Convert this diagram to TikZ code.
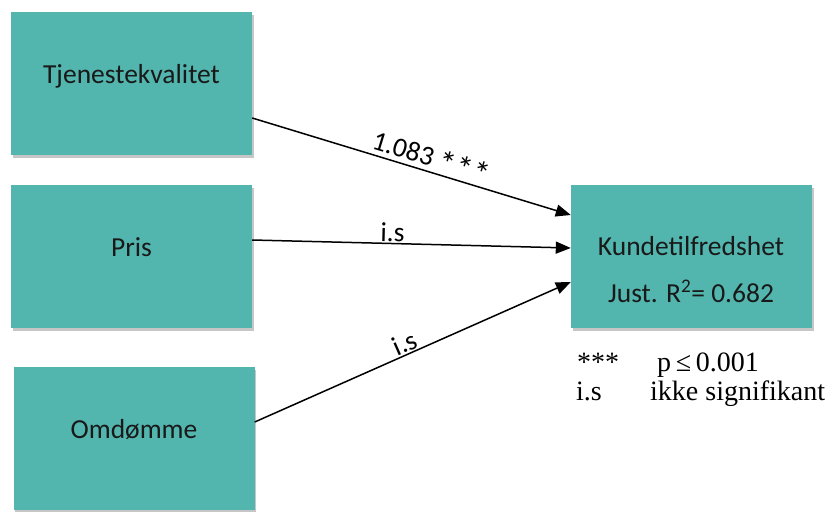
\documentclass[tikz,border=0pt]{standalone}
\usepackage{fontspec}
\setmainfont{Carlito}
\newfontfamily\legendfont{Liberation Serif}
\usetikzlibrary{arrows.meta,shadows,calc}
\definecolor{teal1}{RGB}{82,181,174}
\newcommand{\stars}{\raisebox{-4pt}{\fontsize{34}{30}\selectfont *\kern1pt*\kern1pt*}}
\begin{document}
\begin{tikzpicture}[x=1pt,y=-1pt,
  box/.style={draw=none,fill=teal1,minimum width=241pt,minimum height=143pt,inner sep=0pt,
    drop shadow={opacity=0.45,shadow xshift=1.5pt,shadow yshift=-3pt}},
  boxtext/.style={anchor=base,font=\fontsize{27.5}{30}\selectfont,text=black!90,inner sep=0pt},
  conn/.style={line width=1.5pt,-{Triangle[length=15pt,width=12pt]}},
  elabel/.style={font=\fontsize{27.5}{30}\selectfont,inner sep=1pt,sloped,above},
  legend/.style={anchor=base west,font=\legendfont\fontsize{28}{30}\selectfont,inner sep=0pt}]
\useasboundingbox (0,0) rectangle (837,511);
% boxes
\node[box] (t) at (131.5,83.5) {};
\node[box] (p) at (131.5,256.5) {};
\node[box] (o) at (134,438.5) {};
\node[box] (k) at (691.5,256) {};
% box texts
\node[boxtext] (tt) at (131.5,83) {Tjenestekvalitet};
\node[boxtext] (pt) at (131.5,256) {Pris};
\node[boxtext] (ot) at (134,438) {Omdømme};
\node[boxtext] (kt1) at (691,255) {Kundetilfredshet};
\node[boxtext] (kt2) at (691,302) {Just. R\textsuperscript{2}= 0.682};
% connectors
\draw[conn] ($(t.east)+(0,34.5)$) -- node[elabel,pos=0.55] {1.083 \stars} ($(k.west)+(0,-41)$);
\draw[conn] ($(p.east)+(0,-16.5)$) -- node[elabel,pos=0.44] {i.s} ($(k.west)+(0,-8)$);
\draw[conn] ($(o.east)+(0,-16.5)$) -- node[elabel,pos=0.49] {i.s} ($(k.west)+(0,26)$);
% legend
\node[legend] (l1) at (577,371) {***};
\node[legend] (l2) at (657,371) {p\,≤\,0.001};
\node[legend] (l3) at (576,400) {i.s};
\node[legend] (l4) at (650,400) {ikke signifikant};
\end{tikzpicture}
\end{document}
